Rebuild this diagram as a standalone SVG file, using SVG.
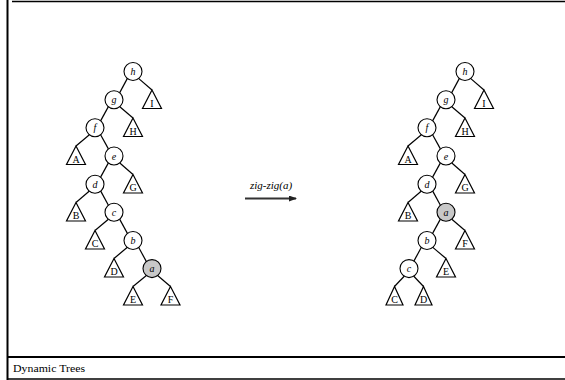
<svg xmlns="http://www.w3.org/2000/svg" width="565" height="380" viewBox="0 0 565 380">
<style>
text{fill:#000}
.frame{stroke:#000;fill:none}
.n circle{fill:#fff;stroke:#000;stroke-width:1.1}
.n.hl circle{fill:#c8c8c8}
.n text{font-family:"Liberation Serif","Times New Roman",serif;font-style:italic;font-size:10px;text-anchor:middle}
.t polygon{fill:#fff;stroke:#000;stroke-width:1.2;stroke-linejoin:miter}
.t text{font-family:"Liberation Serif","Times New Roman",serif;font-size:10px;text-anchor:middle}
#edges line{stroke:#000;stroke-width:1.2}
.lbl{font-family:"Liberation Serif","Times New Roman",serif;font-style:italic;font-size:11px;text-anchor:middle}
.cap{font-family:"Liberation Serif","Times New Roman",serif;font-size:11px}
</style>
<defs>
<marker id="ah" markerWidth="8" markerHeight="6" refX="7" refY="3" orient="auto" markerUnits="userSpaceOnUse">
<path d="M0,0 L8,3 L0,6 Z" fill="#222"/>
</marker>
</defs>
<rect width="565" height="380" fill="#fff"/>
<g id="frame">
<line class="frame" x1="7.5" y1="0" x2="7.5" y2="380" stroke-width="2"/>
<line class="frame" x1="12" y1="1.5" x2="565" y2="1.5" stroke-width="1.5"/>
<line class="frame" x1="8" y1="357" x2="565" y2="357" stroke-width="2"/>
<line class="frame" x1="8" y1="379" x2="565" y2="379" stroke-width="1.5"/>
<text class="cap" x="13" y="372" textLength="72" lengthAdjust="spacingAndGlyphs">Dynamic Trees</text>
</g>
<g id="edges">
<line x1="127.4" y1="78.4" x2="119.6" y2="92.9"/>
<line x1="138.8" y1="78.6" x2="152" y2="90"/>
<line x1="108.4" y1="106.6" x2="100.6" y2="120.9"/>
<line x1="119.8" y1="106.8" x2="133" y2="118"/>
<line x1="89.4" y1="134.8" x2="76" y2="146"/>
<line x1="100.6" y1="134.7" x2="108.4" y2="148.9"/>
<line x1="108.4" y1="162.9" x2="100.6" y2="177.1"/>
<line x1="119.8" y1="163" x2="133" y2="174.5"/>
<line x1="89.4" y1="191" x2="76" y2="202.5"/>
<line x1="100.6" y1="190.9" x2="108.4" y2="205.3"/>
<line x1="108.4" y1="219.2" x2="95" y2="230.5"/>
<line x1="119.6" y1="219.1" x2="127.4" y2="233.4"/>
<line x1="127.4" y1="247.2" x2="114" y2="258.5"/>
<line x1="138.6" y1="247.3" x2="146.4" y2="261.6"/>
<line x1="146.4" y1="275.5" x2="133" y2="286.5"/>
<line x1="157.6" y1="275.5" x2="170.5" y2="286.5"/>
<line x1="459.4" y1="78.4" x2="451.6" y2="92.9"/>
<line x1="470.8" y1="78.6" x2="484" y2="90"/>
<line x1="440.4" y1="106.6" x2="432.6" y2="120.9"/>
<line x1="451.8" y1="106.8" x2="465" y2="118"/>
<line x1="421.4" y1="134.8" x2="408" y2="146"/>
<line x1="432.6" y1="134.7" x2="440.4" y2="148.9"/>
<line x1="440.4" y1="162.9" x2="432.6" y2="177.1"/>
<line x1="451.8" y1="163" x2="465" y2="174.5"/>
<line x1="421.4" y1="191" x2="408" y2="202.5"/>
<line x1="432.6" y1="190.9" x2="440.4" y2="205.3"/>
<line x1="451.8" y1="219.2" x2="465" y2="230.5"/>
<line x1="440.4" y1="219.1" x2="432.6" y2="233.4"/>
<line x1="432.8" y1="247.4" x2="446" y2="258.5"/>
<line x1="421.4" y1="247.3" x2="413.6" y2="261.6"/>
<line x1="404.4" y1="276" x2="394.5" y2="286.5"/>
<line x1="413.6" y1="276" x2="423.5" y2="286.5"/>
<line x1="245" y1="198.5" x2="296" y2="198.5" style="stroke:#333;stroke-width:2.2" marker-end="url(#ah)"/>
</g>
<text class="lbl" x="271" y="189">zig-zig(a)</text>
<g id="L_h" class="n"><circle cx="133" cy="71.5" r="9"/><text x="133" y="75">h</text></g>
<g id="L_g" class="n"><circle cx="114" cy="99.8" r="9"/><text x="114" y="103.3">g</text></g>
<g id="L_f" class="n"><circle cx="95" cy="127.8" r="9"/><text x="95" y="131.3">f</text></g>
<g id="L_e" class="n"><circle cx="114" cy="156" r="9"/><text x="114" y="159.5">e</text></g>
<g id="L_d" class="n"><circle cx="95" cy="184.2" r="9"/><text x="95" y="187.7">d</text></g>
<g id="L_c" class="n"><circle cx="114" cy="212.3" r="9"/><text x="114" y="215.8">c</text></g>
<g id="L_b" class="n"><circle cx="133" cy="240.5" r="9"/><text x="133" y="244">b</text></g>
<g id="L_a" class="n hl"><circle cx="152" cy="268.6" r="9"/><text x="152" y="272.1">a</text></g>
<g id="L_I" class="t"><polygon points="152,90 142.5,108.5 161.5,108.5"/><text x="152" y="106.5">I</text></g>
<g id="L_H" class="t"><polygon points="133,118 123.5,136.5 142.5,136.5"/><text x="133" y="134.5">H</text></g>
<g id="L_A" class="t"><polygon points="76,146 66.5,164.5 85.5,164.5"/><text x="76" y="162.5">A</text></g>
<g id="L_G" class="t"><polygon points="133,174.5 123.5,193 142.5,193"/><text x="133" y="191">G</text></g>
<g id="L_B" class="t"><polygon points="76,202.5 66.5,221 85.5,221"/><text x="76" y="219">B</text></g>
<g id="L_C" class="t"><polygon points="95,230.5 85.5,249 104.5,249"/><text x="95" y="247">C</text></g>
<g id="L_D" class="t"><polygon points="114,258.5 104.5,277 123.5,277"/><text x="114" y="275">D</text></g>
<g id="L_E" class="t"><polygon points="133,286.5 123.5,305 142.5,305"/><text x="133" y="303">E</text></g>
<g id="L_F" class="t"><polygon points="170.5,286.5 161,305 180,305"/><text x="170.5" y="303">F</text></g>
<g id="R_h" class="n"><circle cx="465" cy="71.5" r="9"/><text x="465" y="75">h</text></g>
<g id="R_g" class="n"><circle cx="446" cy="99.8" r="9"/><text x="446" y="103.3">g</text></g>
<g id="R_f" class="n"><circle cx="427" cy="127.8" r="9"/><text x="427" y="131.3">f</text></g>
<g id="R_e" class="n"><circle cx="446" cy="156" r="9"/><text x="446" y="159.5">e</text></g>
<g id="R_d" class="n"><circle cx="427" cy="184.2" r="9"/><text x="427" y="187.7">d</text></g>
<g id="R_a" class="n hl"><circle cx="446" cy="212.3" r="9"/><text x="446" y="215.8">a</text></g>
<g id="R_b" class="n"><circle cx="427" cy="240.5" r="9"/><text x="427" y="244">b</text></g>
<g id="R_c" class="n"><circle cx="409" cy="268.6" r="9"/><text x="409" y="272.1">c</text></g>
<g id="R_I" class="t"><polygon points="484,90 474.5,108.5 493.5,108.5"/><text x="484" y="106.5">I</text></g>
<g id="R_H" class="t"><polygon points="465,118 455.5,136.5 474.5,136.5"/><text x="465" y="134.5">H</text></g>
<g id="R_A" class="t"><polygon points="408,146 398.5,164.5 417.5,164.5"/><text x="408" y="162.5">A</text></g>
<g id="R_G" class="t"><polygon points="465,174.5 455.5,193 474.5,193"/><text x="465" y="191">G</text></g>
<g id="R_B" class="t"><polygon points="408,202.5 398.5,221 417.5,221"/><text x="408" y="219">B</text></g>
<g id="R_F" class="t"><polygon points="465,230.5 455.5,249 474.5,249"/><text x="465" y="247">F</text></g>
<g id="R_E" class="t"><polygon points="446,258.5 436.5,277 455.5,277"/><text x="446" y="275">E</text></g>
<g id="R_C" class="t"><polygon points="394.5,286.5 386,305 403,305"/><text x="394.5" y="303">C</text></g>
<g id="R_D" class="t"><polygon points="423.5,286.5 415,305 432,305"/><text x="423.5" y="303">D</text></g>
</svg>
